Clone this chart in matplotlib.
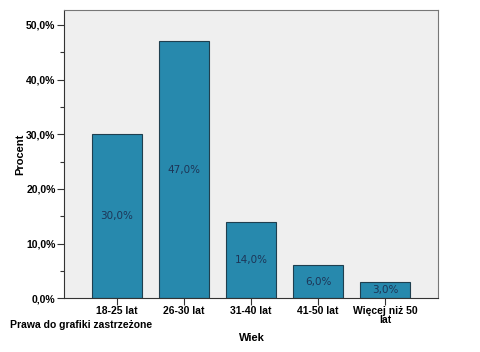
import matplotlib
matplotlib.use("Agg")
import matplotlib.pyplot as plt
from matplotlib.ticker import MultipleLocator, FuncFormatter

plt.rcParams["font.family"] = ["Liberation Sans", "DejaVu Sans"]

categories = ["18-25 lat", "26-30 lat", "31-40 lat", "41-50 lat", "Więcej niż 50\nlat"]
values = [30.0, 47.0, 14.0, 6.0, 3.0]

fig = plt.figure(figsize=(4.8, 3.52), dpi=100)
ax = fig.add_axes([0.133, 0.153, 0.780, 0.818])
ax.set_facecolor("#efefef")
x = range(len(categories))
bars = ax.bar(x, values, width=0.746, color="#2789ad", edgecolor="#1f3f4f", linewidth=0.8)
for xi, v in zip(x, values):
    ax.text(xi, v / 2, f"{v:.1f}%".replace(".", ","), ha="center", va="center",
            fontsize=7.5, color="#1d3557", family=["DejaVu Sans"])
ax.set_xlim(-0.79, 4.79)
ax.set_ylim(0, 52.7)
ax.yaxis.set_major_locator(MultipleLocator(10))
ax.yaxis.set_minor_locator(MultipleLocator(5))
ax.yaxis.set_major_formatter(FuncFormatter(lambda v, p: f"{v:.1f}%".replace(".", ",")))
ax.set_xticks(list(x))
ax.set_xticklabels(categories, fontsize=7.5, fontweight="bold", linespacing=0.8)
for lab in ax.get_yticklabels():
    lab.set_fontsize(7.5)
    lab.set_fontweight("bold")
ax.tick_params(axis="both", which="major", length=5, width=0.8, color="#333333", pad=1)
ax.tick_params(axis="y", which="minor", length=3, width=0.8, color="#333333")
for s in ax.spines.values():
    s.set_color("#777777")
    s.set_linewidth(0.8)
ax.spines["left"].set_color("#333333")
ax.spines["bottom"].set_color("#333333")
ax.set_ylabel("Procent", fontsize=8, fontweight="bold")
ax.yaxis.set_label_coords(-0.104, 0.5)
fig.text(0.525, 0.04, "Wiek", ha="center", va="center", fontsize=8, fontweight="bold")
fig.text(0.02, 0.077, "Prawa do grafiki zastrzeżone", ha="left", va="center", fontsize=7.5, fontweight="bold")
fig.savefig("out.png", dpi=100, facecolor="white")
